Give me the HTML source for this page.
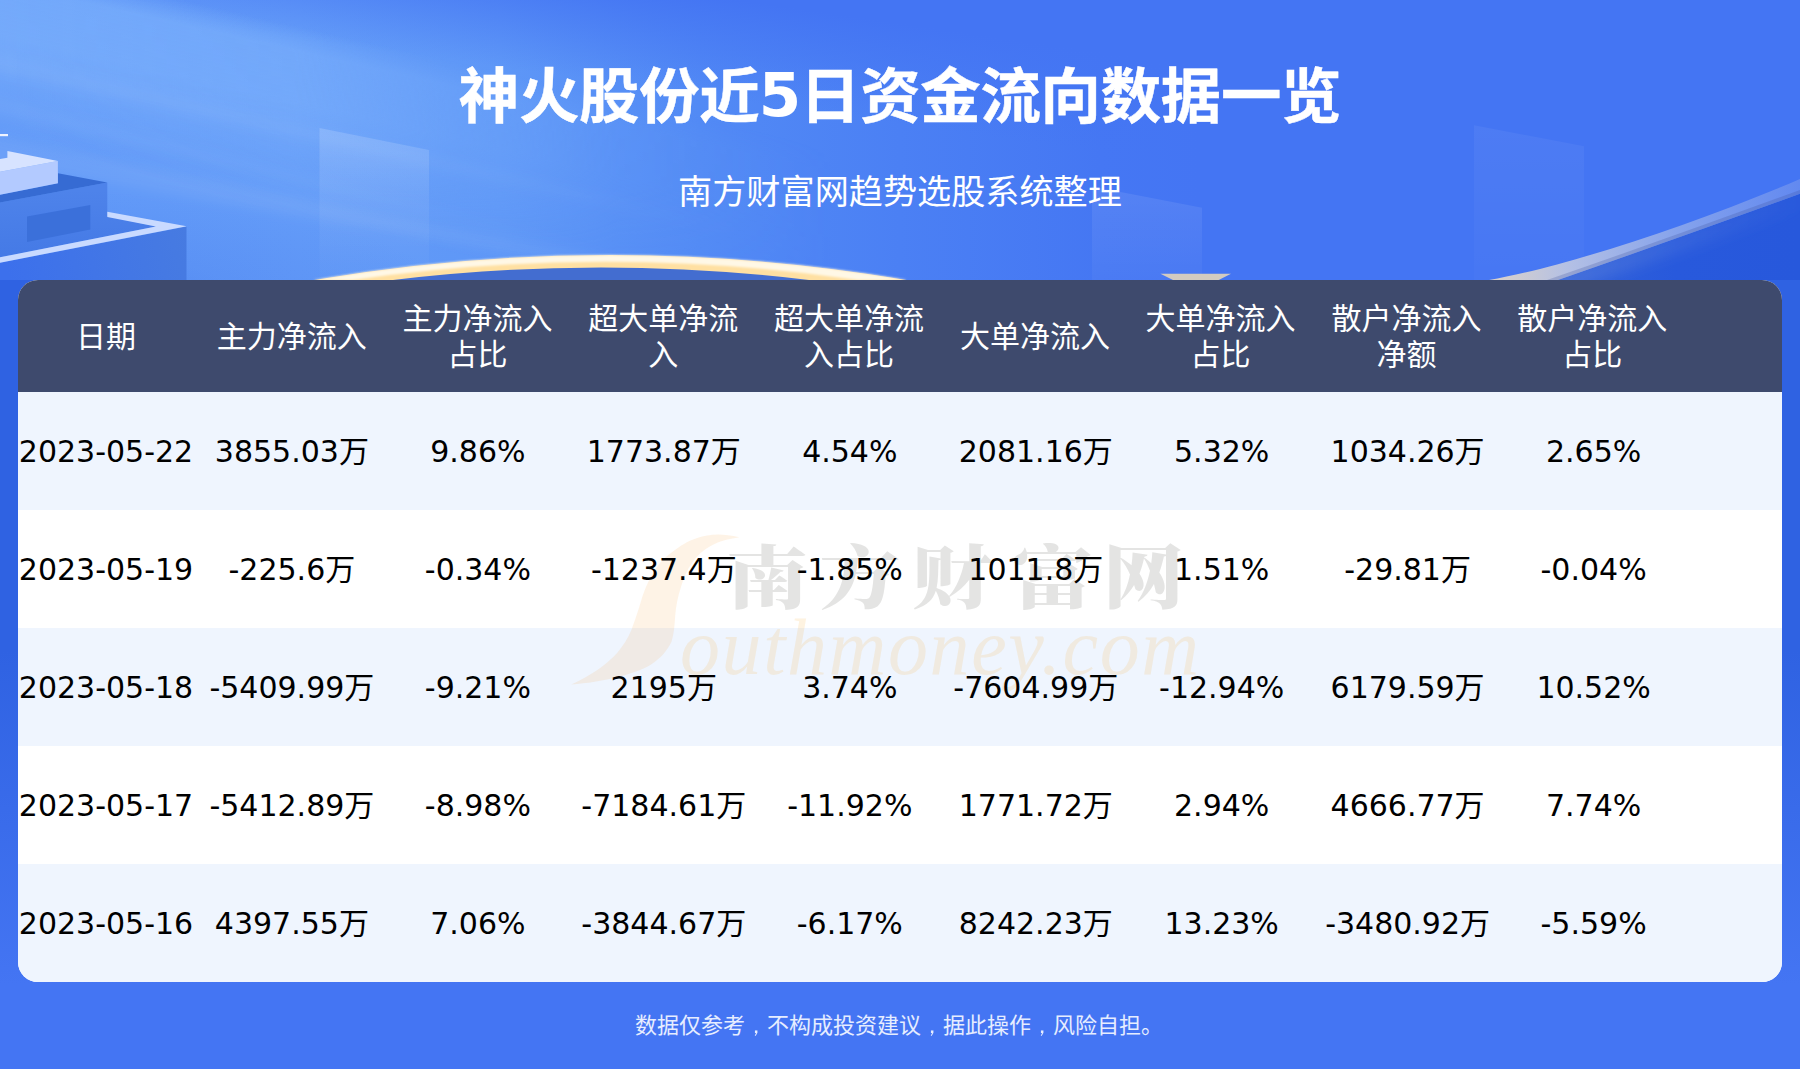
<!DOCTYPE html>
<html lang="zh-CN">
<head>
<meta charset="utf-8">
<title>神火股份近5日资金流向数据一览</title>
<style>
html,body{margin:0;padding:0;}
body{width:1800px;height:1069px;position:relative;overflow:hidden;
  background:linear-gradient(to bottom,#2f62e2 0,#2f62e2 650px,#4475f3 986px,#4475f3 100%);
  font-family:"DejaVu Sans","Noto Sans CJK SC",sans-serif;}
#hero{position:absolute;left:0;top:0;width:1800px;height:280px;display:block;}
h1{position:absolute;left:0;top:48px;letter-spacing:-0.27px;-webkit-text-stroke:0.45px #fff;width:1800px;margin:0;text-align:center;color:#fff;
  font:bold 60.4px/88px "Noto Sans CJK SC","Liberation Sans",sans-serif;white-space:nowrap;}
.sub{position:absolute;left:0;top:167px;width:1800px;margin:0;text-align:center;color:#fff;
  font:400 34.15px/50px "Liberation Sans","Noto Sans CJK SC",sans-serif;white-space:nowrap;}
#card{position:absolute;left:18px;top:280px;width:1764px;height:702px;border-radius:20px;overflow:hidden;background:#fff;}
.hd{position:absolute;left:0;top:0;width:1764px;height:112px;background:#3e4a6d;}
.row{position:absolute;left:0;width:1764px;height:118px;}
.st{position:absolute;left:0;width:1764px;height:118px;}
.st.a{background:#eff5fe;}
.st.b{background:#ffffff;}
.c{position:absolute;top:1px;height:100%;width:186px;display:flex;align-items:center;justify-content:center;text-align:center;white-space:nowrap;}
.hd .c{color:#fff;font:400 30px/36px "Liberation Sans","Noto Sans CJK SC",sans-serif;}
.row .c{color:#000;font-size:30px;line-height:40px;}
#wm{position:absolute;left:0;top:0;width:1764px;height:702px;pointer-events:none;}
.foot{position:absolute;left:-1px;top:1008px;width:1800px;text-align:center;color:#e6edff;
  font:400 22px/36px "Liberation Sans","Noto Sans CJK SC",sans-serif;white-space:nowrap;}
.cm{font-family:"WenQuanYi Zen Hei","Noto Sans CJK SC",sans-serif;}
.n5{font-family:"DejaVu Sans","Liberation Sans",sans-serif;font-size:61px;letter-spacing:0;-webkit-text-stroke:0;margin:0 -1.2px 0 -0.6px;position:relative;top:-2px;}
</style>
</head>
<body>
<svg id="hero" width="1800" height="280" viewBox="0 0 1800 280">
  <defs>
    <linearGradient id="glow" x1="0" y1="0" x2="1200" y2="0" gradientUnits="userSpaceOnUse">
      <stop offset="0" stop-color="#6199f8"/>
      <stop offset="0.25" stop-color="#639bf8"/>
      <stop offset="0.417" stop-color="#5e97f7"/>
      <stop offset="0.583" stop-color="#528af5"/>
      <stop offset="0.75" stop-color="#4b80f4"/>
      <stop offset="0.917" stop-color="#4577f3"/>
      <stop offset="1" stop-color="#4475f3"/>
    </linearGradient>
    <linearGradient id="wedge" x1="605.6" y1="-18.6" x2="591.6" y2="80.4" gradientUnits="userSpaceOnUse">
      <stop offset="0" stop-color="#4475f3" stop-opacity="1"/>
      <stop offset="1" stop-color="#4475f3" stop-opacity="0"/>
    </linearGradient>
    <linearGradient id="beam" x1="132.7" y1="-11.7" x2="91.2" y2="170.7" gradientUnits="userSpaceOnUse">
      <stop offset="0" stop-color="#78adfb" stop-opacity="0"/>
      <stop offset="0.13" stop-color="#78adfb" stop-opacity="0.8"/>
      <stop offset="0.4" stop-color="#78adfb" stop-opacity="0.85"/>
      <stop offset="0.7" stop-color="#78adfb" stop-opacity="0.4"/>
      <stop offset="1" stop-color="#78adfb" stop-opacity="0"/>
    </linearGradient>
    <linearGradient id="beamfade" x1="0" y1="0" x2="980" y2="0" gradientUnits="userSpaceOnUse">
      <stop offset="0" stop-color="#fff" stop-opacity="1"/>
      <stop offset="0.3" stop-color="#fff" stop-opacity="0.9"/>
      <stop offset="0.47" stop-color="#fff" stop-opacity="0.42"/>
      <stop offset="0.63" stop-color="#fff" stop-opacity="0.14"/>
      <stop offset="0.85" stop-color="#fff" stop-opacity="0"/>
    </linearGradient>
    <mask id="beamM" maskUnits="userSpaceOnUse" x="0" y="0" width="1000" height="280"><rect width="1000" height="280" fill="url(#beamfade)"/></mask>
    <radialGradient id="lowleft" cx="0" cy="0" r="1" gradientUnits="userSpaceOnUse" gradientTransform="translate(40,310) scale(420,120)">
      <stop offset="0" stop-color="#3a6ce6" stop-opacity="0.5"/>
      <stop offset="0.5" stop-color="#3a6ce6" stop-opacity="0.18"/>
      <stop offset="1" stop-color="#3a6ce6" stop-opacity="0"/>
    </radialGradient>
    <linearGradient id="panel" x1="0" y1="0" x2="0" y2="1">
      <stop offset="0" stop-color="#fff" stop-opacity="0.16"/>
      <stop offset="0.5" stop-color="#fff" stop-opacity="0.065"/>
      <stop offset="1" stop-color="#fff" stop-opacity="0.01"/>
    </linearGradient>
    <linearGradient id="panel2" x1="0" y1="0" x2="0" y2="1">
      <stop offset="0" stop-color="#fff" stop-opacity="0.09"/>
      <stop offset="1" stop-color="#fff" stop-opacity="0.03"/>
    </linearGradient>
    <linearGradient id="panel3" x1="0" y1="0" x2="0" y2="1">
      <stop offset="0" stop-color="#fff" stop-opacity="0.05"/>
      <stop offset="1" stop-color="#fff" stop-opacity="0.015"/>
    </linearGradient>
    <linearGradient id="pf" x1="186" y1="228" x2="10" y2="282" gradientUnits="userSpaceOnUse">
      <stop offset="0" stop-color="#477be1"/>
      <stop offset="1" stop-color="#3c70ec"/>
    </linearGradient>
    <linearGradient id="bf" x1="0" y1="190" x2="0" y2="255" gradientUnits="userSpaceOnUse">
      <stop offset="0" stop-color="#4e83ea"/>
      <stop offset="1" stop-color="#457ae6"/>
    </linearGradient>
    <linearGradient id="gold" x1="0" y1="0" x2="0" y2="1">
      <stop offset="0" stop-color="#fff3d6"/>
      <stop offset="0.5" stop-color="#ffe7b0"/>
      <stop offset="1" stop-color="#fbd98c"/>
    </linearGradient>
    <linearGradient id="sw" x1="1490" y1="0" x2="1800" y2="0" gradientUnits="userSpaceOnUse">
      <stop offset="0" stop-color="#ddd3c8"/>
      <stop offset="0.25" stop-color="#b4c0e4"/>
      <stop offset="0.6" stop-color="#86a3ec"/>
      <stop offset="1" stop-color="#6289f0"/>
    </linearGradient>
    <linearGradient id="haze" x1="1540" y1="0" x2="1800" y2="0" gradientUnits="userSpaceOnUse">
      <stop offset="0" stop-color="#6d8fe0" stop-opacity="0.36"/>
      <stop offset="0.5" stop-color="#6d8fe0" stop-opacity="0.2"/>
      <stop offset="1" stop-color="#6d8fe0" stop-opacity="0.02"/>
    </linearGradient>
    <linearGradient id="swdark" x1="1550" y1="0" x2="1800" y2="0" gradientUnits="userSpaceOnUse">
      <stop offset="0" stop-color="#3362d8"/>
      <stop offset="0.5" stop-color="#2859dc"/>
      <stop offset="1" stop-color="#2758dc"/>
    </linearGradient>
    <filter id="b6" x="-20%" y="-50%" width="140%" height="200%"><feGaussianBlur stdDeviation="6"/></filter>
    <filter id="b1"><feGaussianBlur stdDeviation="0.5"/></filter>
    <filter id="b2" x="-5%" y="-30%" width="110%" height="160%"><feGaussianBlur stdDeviation="1.2"/></filter>
  </defs>
  <rect width="1800" height="280" fill="#4475f3"/>
  <rect width="1200" height="280" fill="url(#glow)"/>
  <rect width="1800" height="280" fill="url(#wedge)"/>
  <rect width="1000" height="280" fill="url(#beam)" mask="url(#beamM)"/>
  <rect width="800" height="280" fill="url(#lowleft)"/>
  <!-- light beams -->
  <g filter="url(#b6)" fill="#fff">
    <polygon points="-50,128 -50,156 800,300" opacity="0.07"/>
    <polygon points="-50,42 -50,62 760,236" opacity="0.05"/>
    <polygon points="-50,88 -50,100 640,262" opacity="0.05"/>
  </g>
  <!-- translucent panels -->
  <polygon points="319.5,128 429,150 429,280 319.5,280" fill="url(#panel)"/>
  <polygon points="1092,186.5 1202,207.8 1202,280 1092,280" fill="url(#panel2)"/>
  <polygon points="1474,125.3 1584,146.3 1584,280 1474,280" fill="url(#panel3)"/>
  <!-- building left -->
  <g id="bld">
    <rect x="0" y="134" width="8" height="2.2" fill="#eef3ff"/>
    <polygon points="0,262.7 186.5,226.5 186.5,280 0,280" fill="url(#pf)"/>
    <polygon points="0,202.6 107.3,182.5 107.3,216 155.9,226.5 0,257.3" fill="url(#bf)"/>
    <polygon points="57.9,173.2 107.3,182.5 0,202.6 0,194.8 57.9,183.3" fill="#366bd3"/>
    <polygon points="27,216.5 90.3,204.9 90.3,229.6 27,241.9" fill="#3b70da"/>
    <polygon points="0,171.7 57.9,160.9 57.9,183.3 0,194.8" fill="#b3caff"/>
    <polygon points="7.4,150.9 57.9,160.9 0,171.7 0,158.9 7.4,157.8" fill="#d7e3ff"/>
    <polygon points="107.3,211.8 186.7,226.2 0,262.7 0,257.3 155.9,226.5 107.3,216.9" fill="#c9daff"/>
  </g>
  <!-- gold arc -->
  <path d="M313.8,280 Q610,230 906.7,280 Z" fill="#436dd0"/>
  <g filter="url(#b1)">
    <path d="M313.8,280 Q610,230 906.7,280 L809,280 Q601,255 393,280 Z" fill="#ffe0a2"/>
    <path d="M313.8,280 Q610,230 906.7,280 L858,280 Q605.5,243.5 353,280 Z" fill="#fff8e6" filter="url(#b2)"/>
  </g>
  <!-- small trapezoid -->
  <polygon points="1160.4,273.8 1231,273.8 1218.7,280 1173,280" fill="#d3cbc0"/>
  <!-- right swoosh -->
  <clipPath id="swclip"><path d="M1558,280 Q1680,237.5 1800,193.75 L1800,280 Z"/></clipPath>
  <path d="M1558,280 Q1680,237.5 1800,193.75 L1800,280 Z" fill="url(#swdark)"/>
  <g clip-path="url(#swclip)">
    <path d="M1540,290 Q1680,243 1800,199" fill="none" stroke="url(#haze)" stroke-width="20" filter="url(#b6)"/>
  </g>
  <path d="M1489,280 C1560,268 1690,226 1800,179 L1800,193.75 Q1680,237.5 1558,280 Z" fill="url(#sw)"/>
  <path d="M1547,280 Q1676,235.5 1800,190 L1800,193.75 Q1680,237.5 1558,280 Z" fill="#3a4f9a" fill-opacity="0.25"/>
</svg>

<h1>神火股份近<span class="n5">5</span>日资金流向数据一览</h1>
<p class="sub">南方财富网趋势选股系统整理</p>
<div id="card" role="table" aria-label="神火股份近5日资金流向">
  <div class="hd" role="row">
    <div class="c" role="columnheader" style="left:-5.0px">日期</div><div class="c" role="columnheader" style="left:180.8px">主力净流入</div><div class="c" role="columnheader" style="left:366.5px">主力净流入<br>占比</div><div class="c" role="columnheader" style="left:552.3px">超大单净流<br>入</div><div class="c" role="columnheader" style="left:738.1px">超大单净流<br>入占比</div><div class="c" role="columnheader" style="left:923.9px">大单净流入</div><div class="c" role="columnheader" style="left:1109.6px">大单净流入<br>占比</div><div class="c" role="columnheader" style="left:1295.4px">散户净流入<br>净额</div><div class="c" role="columnheader" style="left:1481.2px">散户净流入<br>占比</div>
  </div>
  <div class="st a" style="top:112px"></div><div class="st b" style="top:230px"></div><div class="st a" style="top:348px"></div><div class="st b" style="top:466px"></div><div class="st a" style="top:584px"></div>
  <svg id="wm" width="1764" height="702" viewBox="0 0 1764 702">
    <path d="M721.4,257.3 C708,254 698,254 689.3,255.4 C678,257.5 670,261 662.9,265.8 C654,272 647,277 642.1,282.8 C632,296 627,308 623.2,320.6 C620,332 617,340 613.8,348.9 C610,358 605,366 598.7,373.4 C588,385 572,396 553.3,404.6 C585,402 615,395 632.7,384.8 C643,378 649,371 653.4,362.1 C656,354 656.5,345 657.2,335.7 C658,326 660,316 662.9,307.3 C665.5,298 669,290 674.2,282.8 C679,276 685,270 693.1,265.8 C701,261.5 710,259 721.4,257.3 Z" fill="#f7a033" fill-opacity="0.12"/>
    <text transform="scale(1.18 1)" x="600.5 679.3 757.3 842 919.2" y="323.5" font-family="'Noto Serif CJK SC','Liberation Serif',serif" font-weight="900" font-size="69" fill="#7a7872" fill-opacity="0.2">南方财富网</text>
    <text x="662" y="394" font-family="'Liberation Serif','DejaVu Serif',serif" font-style="italic" font-size="80" textLength="519" lengthAdjust="spacing" fill="#f9a82a" fill-opacity="0.14">outhmoney.com</text>
  </svg>

    <div class="row" role="row" style="top:112px"><div class="c" role="cell" style="left:-5.0px">2023-05-22</div><div class="c" role="cell" style="left:180.9px">3855.03万</div><div class="c" role="cell" style="left:366.9px">9.86%</div><div class="c" role="cell" style="left:552.8px">1773.87万</div><div class="c" role="cell" style="left:738.8px">4.54%</div><div class="c" role="cell" style="left:924.8px">2081.16万</div><div class="c" role="cell" style="left:1110.7px">5.32%</div><div class="c" role="cell" style="left:1296.6px">1034.26万</div><div class="c" role="cell" style="left:1482.6px">2.65%</div></div>
    <div class="row" role="row" style="top:230px"><div class="c" role="cell" style="left:-5.0px">2023-05-19</div><div class="c" role="cell" style="left:180.9px">-225.6万</div><div class="c" role="cell" style="left:366.9px">-0.34%</div><div class="c" role="cell" style="left:552.8px">-1237.4万</div><div class="c" role="cell" style="left:738.8px">-1.85%</div><div class="c" role="cell" style="left:924.8px">1011.8万</div><div class="c" role="cell" style="left:1110.7px">1.51%</div><div class="c" role="cell" style="left:1296.6px">-29.81万</div><div class="c" role="cell" style="left:1482.6px">-0.04%</div></div>
    <div class="row" role="row" style="top:348px"><div class="c" role="cell" style="left:-5.0px">2023-05-18</div><div class="c" role="cell" style="left:180.9px">-5409.99万</div><div class="c" role="cell" style="left:366.9px">-9.21%</div><div class="c" role="cell" style="left:552.8px">2195万</div><div class="c" role="cell" style="left:738.8px">3.74%</div><div class="c" role="cell" style="left:924.8px">-7604.99万</div><div class="c" role="cell" style="left:1110.7px">-12.94%</div><div class="c" role="cell" style="left:1296.6px">6179.59万</div><div class="c" role="cell" style="left:1482.6px">10.52%</div></div>
    <div class="row" role="row" style="top:466px"><div class="c" role="cell" style="left:-5.0px">2023-05-17</div><div class="c" role="cell" style="left:180.9px">-5412.89万</div><div class="c" role="cell" style="left:366.9px">-8.98%</div><div class="c" role="cell" style="left:552.8px">-7184.61万</div><div class="c" role="cell" style="left:738.8px">-11.92%</div><div class="c" role="cell" style="left:924.8px">1771.72万</div><div class="c" role="cell" style="left:1110.7px">2.94%</div><div class="c" role="cell" style="left:1296.6px">4666.77万</div><div class="c" role="cell" style="left:1482.6px">7.74%</div></div>
    <div class="row" role="row" style="top:584px"><div class="c" role="cell" style="left:-5.0px">2023-05-16</div><div class="c" role="cell" style="left:180.9px">4397.55万</div><div class="c" role="cell" style="left:366.9px">7.06%</div><div class="c" role="cell" style="left:552.8px">-3844.67万</div><div class="c" role="cell" style="left:738.8px">-6.17%</div><div class="c" role="cell" style="left:924.8px">8242.23万</div><div class="c" role="cell" style="left:1110.7px">13.23%</div><div class="c" role="cell" style="left:1296.6px">-3480.92万</div><div class="c" role="cell" style="left:1482.6px">-5.59%</div></div>
</div>
<div class="foot">数据仅参考<span class="cm">，</span>不构成投资建议<span class="cm">，</span>据此操作<span class="cm">，</span>风险自担。</div>
</body>
</html>
